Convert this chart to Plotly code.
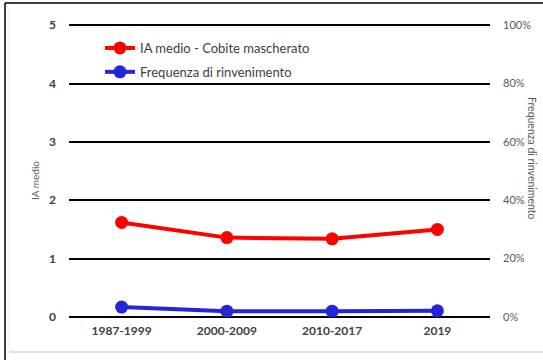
import plotly.graph_objects as go

categories = ["1987-1999", "2000-2009", "2010-2017", "2019"]
ia_medio = [1.62, 1.36, 1.34, 1.50]
frequenza = [0.034, 0.020, 0.020, 0.021]
left_ticks = [0, 1, 2, 3, 4, 5]
right_ticks = [0, 0.2, 0.4, 0.6, 0.8, 1.0]

W, H = 543, 360
L, R, T, B = 69, 53, 24, 43
PW, PH = W - L - R, H - T - B

fig = go.Figure()
fig.add_trace(go.Scatter(
    x=categories, y=ia_medio, name="IA medio - Cobite mascherato",
    mode="lines+markers", line=dict(color="#FF0000", width=4),
    marker=dict(color="#FF0000", size=13), legendgroup="a", yaxis="y"))
fig.add_trace(go.Scatter(
    x=categories, y=frequenza, name="Frequenza di rinvenimento",
    mode="lines+markers", line=dict(color="#2424D8", width=4),
    marker=dict(color="#2424D8", size=13), legendgroup="b", yaxis="y2"))

fig.update_layout(
    width=W, height=H,
    margin=dict(l=L, r=R, t=T, b=B),
    paper_bgcolor="white", plot_bgcolor="white",
    font=dict(family="Lato, Open Sans, sans-serif", size=11, color="#404040"),
    xaxis=dict(type="category", showgrid=False, showline=False, ticks="",
               ticklabelstandoff=5,
               tickfont=dict(family="Lato, sans-serif", size=12, color="#404040", weight="bold"),
               range=[-0.5, 3.5]),
    yaxis=dict(range=[0, 5.02], tickvals=left_ticks, showgrid=True, gridcolor="#000000",
               gridwidth=1.5, zeroline=True, zerolinecolor="#000000", zerolinewidth=1.5,
               showline=False, ticks="", ticklabelstandoff=12,
               tickfont=dict(family="Lato, sans-serif", size=12, color="#404040", weight="bold")),
    yaxis2=dict(range=[0, 1.004], tickvals=right_ticks, tickformat=".0%", overlaying="y",
                side="right", showgrid=False, zeroline=False, showline=False, ticks="",
                ticklabelstandoff=12,
                tickfont=dict(family="Lato, sans-serif", size=11, color="#595959")),
    legend=dict(x=(100 - L) / PW, y=1 - (33 - T) / PH, xanchor="left", yanchor="top",
                bgcolor="rgba(0,0,0,0)",
                tracegroupgap=4, font=dict(size=13, color="#404040"), itemwidth=30),
    showlegend=True,
)

fig.add_annotation(text="IA medio", xref="paper", yref="paper",
                   x=-(L - 35) / PW, y=(H - B - 181) / PH,
                   showarrow=False, textangle=-90, xanchor="center", yanchor="middle",
                   font=dict(size=10, color="#595959"))
fig.add_annotation(text="Frequenza di rinvenimento", xref="paper", yref="paper",
                   x=1 + (532 - (W - R)) / PW, y=(H - B - 158) / PH,
                   showarrow=False, textangle=90, xanchor="center", yanchor="middle",
                   font=dict(size=10.5, color="#595959"))

# outer frame lines
fig.add_shape(type="line", xref="paper", yref="paper", x0=-(L - 5) / PW, x1=-(L - 5) / PW,
              y0=-B / PH, y1=1 + (T - 3) / PH, line=dict(color="black", width=1.5))
fig.add_shape(type="line", xref="paper", yref="paper", x0=-(L - 5) / PW, x1=1 + R / PW,
              y0=1 + (T - 3) / PH, y1=1 + (T - 3) / PH, line=dict(color="black", width=1.5))
fig.add_shape(type="line", xref="paper", yref="paper", x0=-(L - 9) / PW, x1=1 + R / PW,
              y0=-(352 - (H - B)) / PH, y1=-(352 - (H - B)) / PH,
              line=dict(color="#E0E0E0", width=2))
fig.add_shape(type="line", xref="paper", yref="paper", x0=-(L - 9) / PW, x1=-(L - 9) / PW,
              y0=-(351 - (H - B)) / PH, y1=1 + (T - 7) / PH,
              line=dict(color="#EEEEEE", width=1))

fig.write_html("out.html", config={"displayModeBar": False},
               post_script="document.body.style.margin='0';")
